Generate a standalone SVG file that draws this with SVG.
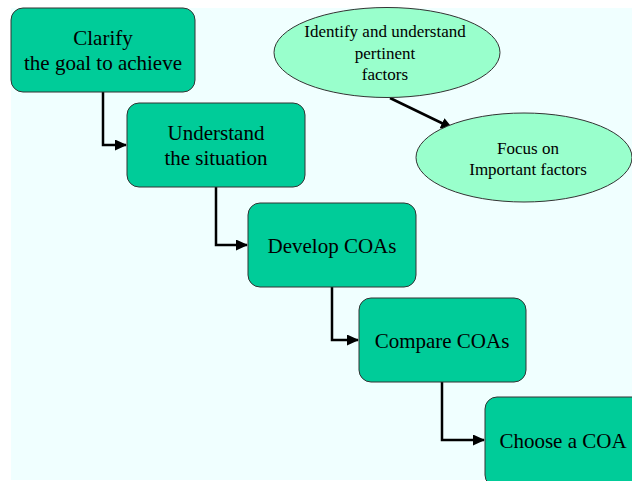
<svg xmlns="http://www.w3.org/2000/svg" width="632" height="481" viewBox="0 0 632 481">
<defs>
<marker id="ah" markerWidth="12" markerHeight="11" refX="11" refY="5.5" orient="auto" markerUnits="userSpaceOnUse">
<path d="M0,0 L12,5.5 L0,11 z" fill="#000"/>
</marker>
<style>
.box{fill:#00CC99;stroke:#333;stroke-width:1}
.ell{fill:#99FFCC;stroke:#333;stroke-width:1}
.t{font-family:"Liberation Serif","Times New Roman",serif;font-size:21px;fill:#000;text-anchor:middle}
.s{font-family:"Liberation Serif","Times New Roman",serif;font-size:17px;fill:#000;text-anchor:middle}
.c{fill:none;stroke:#000;stroke-width:2.5}
</style>
</defs>
<rect x="11" y="8" width="621" height="472" fill="#F0FFFF"/>
<g id="connectors">
<path class="c" d="M103,92 V145 H126" marker-end="url(#ah)"/>
<path class="c" d="M216,187 V245 H247" marker-end="url(#ah)"/>
<path class="c" d="M332,287 V340 H358" marker-end="url(#ah)"/>
<path class="c" d="M442,382 V440 H484" marker-end="url(#ah)"/>
<path class="c" d="M390,98 L452,128" marker-end="url(#ah)"/>
</g>
<g id="clarify">
<rect class="box" x="11" y="8" width="184" height="84" rx="12"/>
<text class="t" x="103" y="45">Clarify</text>
<text class="t" x="103" y="70">the goal to achieve</text>
</g>
<g id="understand">
<rect class="box" x="127" y="103" width="178" height="84" rx="12"/>
<text class="t" x="216" y="140">Understand</text>
<text class="t" x="216" y="165">the situation</text>
</g>
<g id="develop">
<rect class="box" x="248" y="203" width="168" height="84" rx="12"/>
<text class="t" x="332" y="253">Develop COAs</text>
</g>
<g id="compare">
<rect class="box" x="359" y="298" width="167" height="84" rx="12"/>
<text class="t" x="442" y="348">Compare COAs</text>
</g>
<g id="choose">
<rect class="box" x="485" y="397" width="160" height="90" rx="12"/>
<text class="t" x="563" y="448">Choose a COA</text>
</g>
<g id="identify">
<ellipse class="ell" cx="387" cy="52.5" rx="113" ry="45"/>
<text class="s" x="385" y="37">Identify and understand</text>
<text class="s" x="385" y="59">pertinent</text>
<text class="s" x="385" y="80">factors</text>
</g>
<g id="focus">
<ellipse class="ell" cx="524" cy="157.5" rx="108" ry="44.5"/>
<text class="s" x="528" y="154">Focus on</text>
<text class="s" x="528" y="175">Important factors</text>
</g>
</svg>
